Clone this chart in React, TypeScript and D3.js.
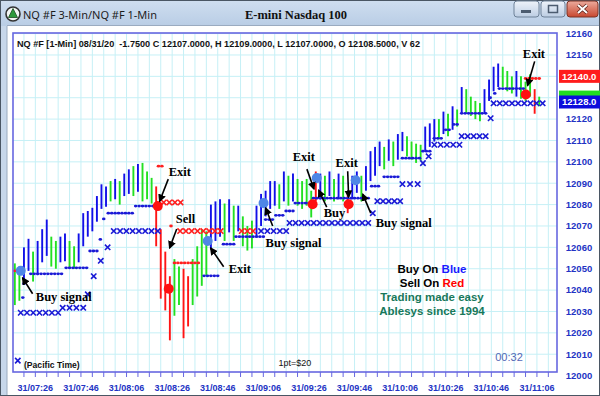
import React, { useEffect, useRef } from 'react';
import * as d3 from 'd3';

const W = 600;
const H = 396;

// 2-minute bars, first bar at 07:17 (minutes after midnight)
const barStart = 437;
const barStep = 2;
const barHigh = [
  12052.5, 12051, 12060, 12064, 12058, 12063, 12068.5, 12073, 12065, 12063,
  12065, 12066.5, 12063, 12060.5, 12066.5, 12076, 12077, 12078.5, 12084, 12089.5,
  12088.5, 12091, 12092, 12091, 12094.5, 12096.5, 12098, 12099, 12099.5, 12095.5,
  12092.5, 12088.5, 12068.5, 12058, 12046.5, 12054.5, 12051, 12050, 12046.5, 12054.5,
  12060.5, 12068.5, 12067.5, 12080, 12081.5, 12082.5, 12080.5, 12082.5, 12079.5, 12079.5,
  12074.5, 12070, 12072.5, 12079.5, 12085, 12086.5, 12091, 12091, 12089.5, 12095.5,
  12093.5, 12094.5, 12092, 12091, 12092, 12086.5, 12095.5, 12094.5, 12093.5, 12095.5,
  12092, 12094.5, 12093.5, 12085, 12093.5, 12095.5, 12093.5, 12098, 12105, 12107,
  12109.5, 12107, 12110.5, 12109.5, 12113, 12114, 12112, 12109.5, 12108.5, 12108,
  12116.5, 12118, 12120, 12120, 12123.5, 12122.5, 12126, 12124.5, 12135, 12134,
  12130.5, 12128.5, 12127.5, 12134, 12138.5, 12144.5, 12146, 12144.5, 12142.5, 12140,
  12142.5, 12140, 12137.5, 12141, 12134, 12130.5,
];
const barLow = [
  12033, 12035, 12044, 12049, 12044, 12047, 12053, 12056, 12051, 12050,
  12053, 12053.5, 12050, 12050, 12053, 12060.5, 12065, 12067.5, 12072, 12078,
  12079, 12081.5, 12082.5, 12080, 12084, 12085, 12084, 12086, 12081.5, 12082.5,
  12080.5, 12060.5, 12036, 12030.5, 12016.5, 12028, 12033, 12017.5, 12023, 12033,
  12037, 12042, 12046.5, 12059, 12063, 12065, 12063, 12067, 12063, 12067.5,
  12060.5, 12058.5, 12059.5, 12065, 12070, 12074.5, 12078, 12079.5, 12078, 12081.5,
  12079.5, 12081.5, 12079.5, 12078, 12079.5, 12074, 12081.5, 12082.5, 12081.5, 12084,
  12081.5, 12082.5, 12081.5, 12076, 12082.5, 12085.5, 12081.5, 12086.5, 12091, 12093.5,
  12098, 12096.5, 12100.5, 12098, 12101, 12105, 12102.5, 12101, 12099.5, 12100.5,
  12105, 12107, 12109.5, 12110.5, 12113, 12112, 12115, 12116.5, 12122.5, 12122.5,
  12121.5, 12120, 12119, 12122.5, 12128.5, 12133, 12135, 12135, 12133, 12132,
  12130.5, 12129.5, 12128.5, 12130.5, 12122.5, 12126,
];
// b = up (blue), g = pullback (green), r = short side (red)
const barColor =
  'ggbbgbbbgg' + 'bbggbbbbbb' + 'bgbgbbgbgg' + 'grrrrggrrg' + 'gggbbbgbgb' +
  'gggbbbbbgb' + 'gbggggrbgb' + 'gbgrbbgbbb' + 'bgbgbbgggg' + 'bbbgbgbgbg' +
  'gggbbbbggg' + 'bgggrg';

// trailing stop dots: [from minute, to minute, price]
const longStop = [
  [440.5, 440.5, 12036.5], [441, 441, 12043], [444, 458, 12047.6], [459.5, 469, 12050.4],
  [470, 473, 12058.3], [474.5, 474.5, 12063.7], [476, 476, 12073.3], [478, 489, 12076],
  [490, 499, 12079.3], [520, 527, 12046.7], [528.5, 533, 12061.5], [534, 546, 12065],
  [547, 550, 12073], [551.5, 555, 12075], [556, 559, 12077], [560, 567, 12080.7],
  [568, 592, 12083], [593.5, 597.5, 12088.6], [599, 606, 12093], [607, 615, 12101.7],
  [616, 620, 12105], [621, 625, 12111], [626, 628.5, 12115], [629.5, 632, 12117.5],
  [633, 643.5, 12122.7], [645.5, 646.5, 12130], [647.5, 648.5, 12132], [649.5, 660, 12134.3],
];
const shortStop = [
  [437, 437.5, 12049], [500, 502.5, 12098], [505.5, 505.5, 12070], [507, 518.5, 12052.7],
  [661, 668, 12139],
];
// protective level crosses
const longCross = [
  [438.3, 438.3, 12007], [439.6, 456, 12029.4], [458, 467, 12031.7], [469, 469, 12038],
  [471.6, 471.6, 12046.5], [474.7, 474.7, 12053.7], [477.7, 477.7, 12060], [480.4, 499.7, 12067.6],
  [545, 556, 12067.6], [557.5, 592, 12071.4], [594, 594, 12076], [596, 606, 12081.6],
  [607, 613.7, 12089.6], [616, 616, 12099.4], [618.5, 618.5, 12102.6], [621, 632, 12108],
  [633, 643.5, 12112], [645.7, 645.7, 12120.4], [647, 668.5, 12127.4],
];
const shortCross = [
  [502.3, 509.7, 12081], [509.5, 527.3, 12067.6], [536.5, 541.5, 12067.6],
];

const buySignals = [
  [439.6, 12049], [521.6, 12063], [546.1, 12080.7], [569.4, 12092.4], [586.5, 12091.4],
];
const sellSignals = [
  [499.7, 12079.3], [504.5, 12040.6], [567.6, 12080.2], [583.4, 12080.2], [661.1, 12131.5],
];

// label position and arrow (from -> to), in minutes / price
const notes = [
  { text: 'Buy signal', m: 446.2, p: 12035, m0: 444.8, p0: 12038.3, m1: 440.4, p1: 12045.7 },
  { text: 'Exit', m: 504.5, p: 12093.3, m0: 504.3, p0: 12091.9, m1: 500.5, p1: 12081.6 },
  { text: 'Sell', m: 507.6, p: 12071.4, m0: 508, p0: 12068.6, m1: 504.9, p1: 12059.7 },
  { text: 'Exit', m: 530.8, p: 12048, m0: 528.6, p0: 12050.9, m1: 522.9, p1: 12059.7 },
  { text: 'Buy signal', m: 547, p: 12060.2, m0: 550.1, p0: 12070, m1: 547, p1: 12078.4 },
  { text: 'Exit', m: 558.9, p: 12100.3, m0: 565.1, p0: 12096.6, m1: 568.2, p1: 12087.3 },
  { text: 'Buy', m: 572.5, p: 12074.2, m0: 573.8, p0: 12078.8, m1: 570.3, p1: 12086.7 },
  { text: 'Exit', m: 577.7, p: 12097.5, m0: 583, p0: 12095.6, m1: 583.4, p1: 12083.5 },
  { text: 'Buy signal', m: 595.3, p: 12069.5, m0: 593.1, p0: 12076, m1: 589.6, p1: 12084.9 },
  { text: 'Exit', m: 659.8, p: 12148.8, m0: 665, p0: 12147, m1: 661.9, p1: 12135.7 },
];

// 12130 and 12140 sit under the last-price boxes
const priceTicks = [
  12000, 12010, 12020, 12030, 12040, 12050, 12060, 12070, 12080,
  12090, 12100, 12110, 12120, 12150, 12160,
];
const gridPrices = [
  12000, 12010, 12020, 12030, 12040, 12050, 12060, 12070, 12080,
  12090, 12100, 12110, 12120, 12130, 12140, 12150, 12160,
];
const timeMinutes = [446, 466, 486, 506, 526, 546, 566, 586, 606, 626, 646, 666];
const timeLabels = [
  '31/07:26', '31/07:46', '31/08:06', '31/08:26', '31/08:46', '31/09:06',
  '31/09:26', '31/09:46', '31/10:06', '31/10:26', '31/10:46', '31/11:06',
];

const lastSell = 12140;
const lastMid = 12130.3;
const lastBuy = 12128;

const colorOf: Record<string, string> = { b: '#1010e8', g: '#22e022', r: '#ff1414' };

const App: React.FC = () => {
  const ref = useRef<SVGSVGElement | null>(null);

  useEffect(() => {
    if (!ref.current) return;
    const svg = d3.select<SVGSVGElement, unknown>(ref.current);
    svg.selectAll('*').remove();

    const L = 13, R = 557, T = 33, B = 372;
    const x = d3.scaleLinear().domain([436.2, 674.8]).range([L, R]);
    const y = d3.scaleLinear().domain([12000, 12160]).range([375.6, 33.6]);

    const defs = svg.append('defs');
    const tg = defs.append('linearGradient').attr('id', 'titleg').attr('x1', 0).attr('y1', 0).attr('x2', 0).attr('y2', 1);
    tg.append('stop').attr('offset', '0%').attr('stop-color', '#cfdef0');
    tg.append('stop').attr('offset', '100%').attr('stop-color', '#b9cde5');
    const bg = defs.append('linearGradient').attr('id', 'btng').attr('x1', 0).attr('y1', 0).attr('x2', 0).attr('y2', 1);
    bg.append('stop').attr('offset', '0%').attr('stop-color', '#eef3fa');
    bg.append('stop').attr('offset', '100%').attr('stop-color', '#bccde3');
    const cg = defs.append('linearGradient').attr('id', 'closeg').attr('x1', 0).attr('y1', 0).attr('x2', 0).attr('y2', 1);
    cg.append('stop').attr('offset', '0%').attr('stop-color', '#ecab9d');
    cg.append('stop').attr('offset', '100%').attr('stop-color', '#c8472f');
    defs.append('clipPath').attr('id', 'plotclip')
      .append('rect').attr('x', L).attr('y', T).attr('width', R - L).attr('height', B - T);
    defs.append('marker').attr('id', 'arrowhead').attr('viewBox', '0 0 6 6').attr('refX', 5).attr('refY', 3)
      .attr('markerWidth', 5).attr('markerHeight', 5).attr('orient', 'auto')
      .append('path').attr('d', 'M0,0 L6,3 L0,6 z').attr('fill', '#000');

    // window chrome
    svg.append('rect').attr('width', W).attr('height', H).attr('fill', '#ffffff');
    svg.append('rect').attr('width', W).attr('height', 26).attr('fill', 'url(#titleg)');
    svg.append('rect').attr('x', 0).attr('y', 26).attr('width', 7).attr('height', H - 26).attr('fill', '#c7d7ea');
    svg.append('line').attr('x1', 7).attr('x2', 7).attr('y1', 26).attr('y2', H).attr('stroke', '#9aabc0');
    svg.append('line').attr('x1', 7).attr('x2', W).attr('y1', 25.5).attr('y2', 25.5).attr('stroke', '#9aabc0');
    svg.append('rect').attr('x', 0.5).attr('y', 0.5).attr('width', W - 1).attr('height', H - 1)
      .attr('fill', 'none').attr('stroke', '#4a5664');

    const icon = svg.append('g');
    icon.append('circle').attr('cx', 13).attr('cy', 14).attr('r', 7).attr('fill', '#f4f6f4').attr('stroke', '#333').attr('stroke-width', 1.6);
    icon.append('path').attr('d', 'M13,8.5 L17.5,17.5 L8.5,17.5 Z').attr('fill', '#2f9a3c').attr('stroke', '#1d4d22').attr('stroke-width', 0.8);

    svg.append('text').attr('x', 23).attr('y', 19).attr('font-family', '"Noto Sans", "Open Sans", sans-serif')
      .attr('font-size', 11).attr('fill', '#1c1c1c').text('NQ #F 3-Min/NQ #F 1-Min');
    svg.append('text').attr('x', 296).attr('y', 19).attr('text-anchor', 'middle')
      .attr('font-family', '"Liberation Serif", "Times New Roman", serif').attr('font-weight', 'bold')
      .attr('font-size', 12.5).attr('fill', '#111').text('E-mini Nasdaq 100');

    const btn = svg.append('g');
    btn.append('rect').attr('x', 514).attr('y', 1).attr('width', 25).attr('height', 16).attr('rx', 3)
      .attr('fill', 'url(#btng)').attr('stroke', '#6f8299');
    btn.append('rect').attr('x', 521).attr('y', 10).attr('width', 10).attr('height', 3).attr('fill', '#4c5c70');
    btn.append('rect').attr('x', 541).attr('y', 1).attr('width', 24).attr('height', 16).attr('rx', 3)
      .attr('fill', 'url(#btng)').attr('stroke', '#6f8299');
    btn.append('rect').attr('x', 548.5).attr('y', 5.5).attr('width', 9).attr('height', 7).attr('fill', 'none')
      .attr('stroke', '#4c5c70').attr('stroke-width', 1.5);
    btn.append('rect').attr('x', 567).attr('y', 1).attr('width', 31).attr('height', 16).attr('rx', 3)
      .attr('fill', 'url(#closeg)').attr('stroke', '#7d3325');
    btn.append('path').attr('d', 'M578,5 L587,13 M587,5 L578,13').attr('stroke', '#5a1f16').attr('stroke-width', 3.4);
    btn.append('path').attr('d', 'M578,5 L587,13 M587,5 L578,13').attr('stroke', '#ffffff').attr('stroke-width', 2);

    // grid
    const grid = svg.append('g').attr('clip-path', 'url(#plotclip)');
    grid.selectAll('line.v').data(d3.range(441, 675, 5)).enter().append('line')
      .attr('x1', (d: number) => x(d)).attr('x2', (d: number) => x(d)).attr('y1', T).attr('y2', B)
      .attr('stroke', '#c6f0f6').attr('stroke-width', 1);
    grid.selectAll('line.h').data(gridPrices).enter().append('line')
      .attr('x1', L).attr('x2', R).attr('y1', (d: number) => y(d)).attr('y2', (d: number) => y(d))
      .attr('stroke', '#c6f0f6').attr('stroke-width', 1);

    const plot = svg.append('g').attr('clip-path', 'url(#plotclip)');

    // price bars
    plot.selectAll('line.bar').data(barHigh).enter().append('line')
      .attr('x1', (_d: number, i: number) => x(barStart + barStep * i))
      .attr('x2', (_d: number, i: number) => x(barStart + barStep * i))
      .attr('y1', (d: number) => y(d))
      .attr('y2', (_d: number, i: number) => y(barLow[i]))
      .attr('stroke', (_d: number, i: number) => colorOf[barColor[i]])
      .attr('stroke-width', 1.9);

    const dotsOf = (segs: number[][]) =>
      segs.flatMap(([a, b, p]) => d3.range(a, b + 0.01, 1.5).map((m: number) => [m, p]));
    const crossOf = (segs: number[][]) =>
      segs.flatMap(([a, b, p]) => {
        const n = Math.max(1, Math.round((b - a) / 2.7) + 1);
        return d3.range(n).map((k: number) => [n === 1 ? a : a + ((b - a) * k) / (n - 1), p]);
      });

    const drawDots = (segs: number[][], color: string) => {
      plot.append('g').selectAll('ellipse').data(dotsOf(segs)).enter().append('ellipse')
        .attr('cx', (d: number[]) => x(d[0])).attr('cy', (d: number[]) => y(d[1]))
        .attr('rx', 1.8).attr('ry', 1.4).attr('fill', color);
    };
    const drawCross = (segs: number[][], color: string) => {
      plot.append('g').selectAll('path').data(crossOf(segs)).enter().append('path')
        .attr('d', (d: number[]) => {
          const cx = x(d[0]), cy = y(d[1]), s = 2.7;
          return `M${cx - s},${cy - s}L${cx + s},${cy + s}M${cx - s},${cy + s}L${cx + s},${cy - s}`;
        })
        .attr('stroke', color).attr('stroke-width', 1.6).attr('fill', 'none');
    };
    drawCross(longCross, '#1a1ad6');
    drawCross(shortCross, '#ff2020');
    drawDots(longStop, '#1a1ad6');
    drawDots(shortStop, '#ff2020');

    // signals
    plot.append('g').selectAll('circle').data(buySignals).enter().append('circle')
      .attr('cx', (d: number[]) => x(d[0])).attr('cy', (d: number[]) => y(d[1])).attr('r', 5)
      .attr('fill', '#4f86e6');
    plot.append('g').selectAll('circle').data(sellSignals).enter().append('circle')
      .attr('cx', (d: number[]) => x(d[0])).attr('cy', (d: number[]) => y(d[1])).attr('r', 5)
      .attr('fill', '#ff1010');

    // annotations
    const ann = svg.append('g');
    ann.selectAll('line').data(notes).enter().append('line')
      .attr('x1', (d: any) => x(d.m0)).attr('y1', (d: any) => y(d.p0))
      .attr('x2', (d: any) => x(d.m1)).attr('y2', (d: any) => y(d.p1))
      .attr('stroke', '#000').attr('stroke-width', 1.6).attr('marker-end', 'url(#arrowhead)');
    ann.selectAll('text').data(notes).enter().append('text')
      .attr('x', (d: any) => x(d.m)).attr('y', (d: any) => y(d.p))
      .attr('font-family', '"Liberation Serif", "Times New Roman", serif')
      .attr('font-weight', 'bold').attr('font-size', 12.5).attr('fill', '#000')
      .text((d: any) => d.text);

    // header line
    svg.append('text').attr('x', 17).attr('y', 47).attr('font-family', '"Liberation Sans", Arial, sans-serif')
      .attr('font-weight', 'bold').attr('font-size', 8.6).attr('fill', '#111')
      .attr('textLength', 403).attr('lengthAdjust', 'spacingAndGlyphs')
      .style('white-space', 'pre')
      .text('NQ #F [1-Min] 08/31/20  -1.7500 C 12107.0000, H 12109.0000, L 12107.0000, O 12108.5000, V 62');

    // legend block
    const leg = svg.append('g').attr('font-family', '"Liberation Sans", Arial, sans-serif')
      .attr('font-weight', 'bold').attr('font-size', 11.5).attr('text-anchor', 'middle');
    const l1 = leg.append('text').attr('x', 432).attr('y', 273);
    l1.append('tspan').attr('fill', '#000').text('Buy On ');
    l1.append('tspan').attr('fill', '#1a1aff').text('Blue');
    const l2 = leg.append('text').attr('x', 432).attr('y', 287);
    l2.append('tspan').attr('fill', '#000').text('Sell On ');
    l2.append('tspan').attr('fill', '#ff0000').text('Red');
    leg.append('text').attr('x', 432).attr('y', 301).attr('fill', '#17785a').text('Trading made easy');
    leg.append('text').attr('x', 432).attr('y', 315).attr('fill', '#17785a').text('Ablesys since 1994');

    // bottom notes
    const bx = svg.append('g').attr('font-family', '"Liberation Sans", Arial, sans-serif');
    bx.append('text').attr('x', 24).attr('y', 368).attr('font-weight', 'bold').attr('font-size', 8.6)
      .attr('fill', '#111').text('(Pacific Time)');
    bx.append('text').attr('x', 295).attr('y', 366).attr('text-anchor', 'middle').attr('font-size', 9)
      .attr('fill', '#111').text('1pt=$20');
    bx.append('text').attr('x', 509).attr('y', 361).attr('text-anchor', 'middle').attr('font-size', 11)
      .attr('fill', '#5468b6').text('00:32');

    // plot frame
    svg.append('rect').attr('x', L).attr('y', T).attr('width', R - L).attr('height', B - T)
      .attr('fill', 'none').attr('stroke', '#6767e0').attr('stroke-width', 1.6);

    // time axis
    const tx = svg.append('g');
    tx.selectAll('line').data(d3.range(441, 675, 5)).enter().append('line')
      .attr('x1', (d: number) => x(d)).attr('x2', (d: number) => x(d)).attr('y1', B).attr('y2', B + 5)
      .attr('stroke', '#6767e0').attr('stroke-width', 1);
    tx.selectAll('text').data(timeMinutes).enter().append('text')
      .attr('x', (d: number) => x(d)).attr('y', 391).attr('text-anchor', 'middle')
      .attr('font-family', '"Liberation Sans", Arial, sans-serif').attr('font-weight', 'bold')
      .attr('font-size', 9).attr('fill', '#2233c4')
      .text((_d: number, i: number) => timeLabels[i]);

    // price axis
    const py = svg.append('g');
    py.selectAll('text').data(priceTicks).enter().append('text')
      .attr('x', 579).attr('y', (d: number) => y(d)).attr('dy', '0.35em').attr('text-anchor', 'middle')
      .attr('font-family', '"Liberation Sans", Arial, sans-serif').attr('font-weight', 'bold')
      .attr('font-size', 9.5).attr('fill', '#2233c4').text((d: number) => d);

    const box = (price: number, fill: string, label: string) => {
      py.append('rect').attr('x', 559).attr('y', y(price) - 6.5).attr('width', 45).attr('height', 13).attr('fill', fill);
      if (label) {
        py.append('text').attr('x', 562).attr('y', y(price)).attr('dy', '0.36em')
          .attr('font-family', '"Liberation Sans", Arial, sans-serif').attr('font-weight', 'bold')
          .attr('font-size', 9.5).attr('fill', '#ffffff').text(label);
      }
    };
    box(lastSell, '#ff1c1c', '12140.0');
    box(lastMid, '#22dd22', '');
    box(lastBuy, '#0c0cdc', '12128.0');
  }, []);

  return (
    <svg ref={ref} width={W} height={H} style={{ position: 'absolute', left: 0, top: 0, display: 'block' }} />
  );
};

export default App;
